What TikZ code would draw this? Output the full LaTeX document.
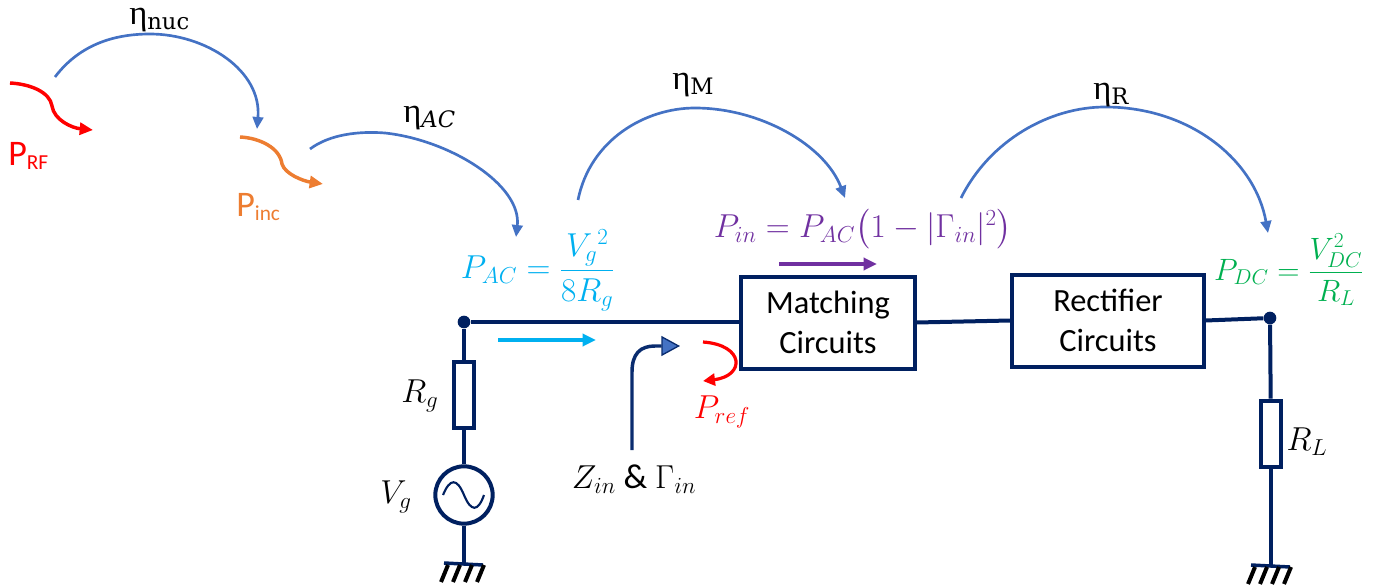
\documentclass[tikz,border=0pt]{standalone}
\usepackage{amsmath}
\usepackage{graphicx}
\usepackage{fontspec}
\setmainfont{Carlito}
\newfontfamily\etafont{Liberation Serif}
\newfontfamily\subfont{DejaVu Serif}
\usetikzlibrary{arrows.meta,calc}
\definecolor{navy}{HTML}{002060}
\definecolor{ablue}{HTML}{4472C4}
\definecolor{aorange}{HTML}{ED7D31}
\definecolor{acyan}{HTML}{00B0F0}
\definecolor{apurple}{HTML}{7030A0}
\definecolor{agreen}{HTML}{00B050}
\definecolor{ared}{HTML}{FF0000}
\newcommand{\etasym}[1]{{\etafont\fontsize{26}{30}\selectfont η}\raisebox{-3.5pt}{\subfont\fontsize{17}{20}\selectfont #1}}
\tikzset{
  wire/.style={draw=navy,line width=3pt},
  box/.style={draw=navy,line width=3pt,fill=white,align=center,inner sep=0pt,font=\fontsize{24.3}{30}\selectfont},
  res/.style={draw=navy,line width=3pt,fill=white,minimum width=15pt,minimum height=50pt,inner sep=0pt},
  dotnode/.style={circle,fill=navy,minimum size=9.5pt,inner sep=0pt},
  eff/.style={draw=ablue,line width=2pt,-{Triangle[length=9pt,width=8pt]}},
  flow/.style={line width=2.6pt,-{Triangle[length=9pt,width=9pt]}},
  lab/.style={inner sep=0pt,font=\fontsize{24}{28}\selectfont},
  form/.style={inner sep=0pt,font=\fontsize{24}{28}\selectfont},
  hatch/.style={draw=black,line width=3pt},
}
\newcommand{\groundat}[1]{%
  \draw[wire,line width=2.6pt] ($(#1)+(-20,-1)$) -- ($(#1)+(19,1)$);
  \foreach \d in {-16,-4,8,20}{\draw[hatch] ($(#1)+(\d,1)$) -- ($(#1)+(\d-7,18)$);}
}
\begin{document}
\begin{tikzpicture}[x=0.75pt,y=-0.75pt]
\useasboundingbox (0,0) rectangle (1385,588);
% free ends
\coordinate (a1s) at (55,77); \coordinate (a1e) at (257,129);
\coordinate (a2s) at (310,149); \coordinate (a2e) at (516,237);
\coordinate (a3s) at (578,200); \coordinate (a3e) at (845,198);
\coordinate (a4s) at (961,198); \coordinate (a4e) at (1268,233);
\coordinate (g1) at (464,564); \coordinate (g2) at (1271,566);
\coordinate (rfs) at (10,83); \coordinate (rfe) at (93,130);
\coordinate (incs) at (240,137); \coordinate (ince) at (323,184);
\coordinate (cs) at (498,340); \coordinate (ce) at (596,340);
\coordinate (ps) at (779,264); \coordinate (pe) at (877,264);
\coordinate (zs) at (632,450); \coordinate (ze) at (680,346);
\coordinate (rs) at (703,342); \coordinate (re) at (703,381);
% efficiency arcs
\draw[eff] (a1s) .. controls (80,44) and (115,34) .. (150,34) .. controls (205,34) and (262,70) .. (a1e);
\draw[eff] (a2s) .. controls (330,134) and (360,131) .. (385,133) .. controls (450,140) and (522,185) .. (a2e);
\draw[eff] (a3s) .. controls (590,140) and (645,108) .. (695,108) .. controls (760,108) and (825,145) .. (a3e);
\draw[eff] (a4s) .. controls (990,140) and (1050,107) .. (1105,107) .. controls (1190,107) and (1255,160) .. (a4e);
% power squiggles
\draw[ared,line width=2.6pt,-{Triangle[length=10pt,width=9pt]}] (rfs) .. controls (30,84) and (50,92) .. (52,106) .. controls (54,120) and (72,128) .. (rfe);
\draw[aorange,line width=2.6pt,-{Triangle[length=10pt,width=9pt]}] (incs) .. controls (260,138) and (280,148) .. (282,164) .. controls (285,174) and (303,181) .. (ince);
% circuit nodes
\node[dotnode] (d1) at (464,322) {};
\node[dotnode] (d2) at (1270,318) {};
\node[box,minimum width=130pt,minimum height=69pt] (mc) at (828,322.5) {Matching\\Circuits};
\node[box,minimum width=143.5pt,minimum height=69pt] (rc) at (1108,320.5) {Rectifier\\Circuits};
\node[res] (rg) at (464,395) {};
\node[res] (rl) at (1271,434) {};
\node[circle,draw=navy,line width=3pt,fill=white,minimum size=43pt,inner sep=0pt] (vs) at (464,495) {};
\draw[wire] (d1) -- (mc.west |- d1);
\draw[wire] (mc.east) -- (rc.west);
\draw[wire] (rc.east) -- (d2);
\draw[wire] (d1) -- (rg);
\draw[wire] (rg) -- (vs);
\draw[wire] (vs) -- (g1);
\draw[wire] (d2) -- (rl);
\draw[wire] (rl) -- (g2);
\draw[navy,line width=1.6pt] (443,495) .. controls (450,478) and (457,478) .. (464,495) .. controls (471,512) and (478,512) .. (484,495);
\groundat{g1}
\groundat{g2}
% flow arrows
\draw[flow,draw=acyan,-{Triangle[length=10pt,width=9pt,fill=acyan]}] (cs) -- (ce);
\draw[flow,draw=apurple,-{Triangle[length=10pt,width=9pt,fill=apurple]}] (ps) -- (pe);
\draw[draw=navy!85!ablue,line width=2.6pt,-{Triangle[length=14pt,width=15pt,fill=ablue,line width=1pt]}] (zs) -- (632,372) .. controls (632,354) and (640,346) .. (655,346) -- (ze);
\draw[ared,line width=2.4pt,-{Triangle[length=9pt,width=9pt]}] (rs) .. controls (745,345) and (745,376) .. (re);
% labels
\node[lab,text=ared,anchor=base west] (l1) at (8,166) {\fontsize{27}{30}\selectfont P\raisebox{-3pt}{\fontsize{16}{20}\selectfont RF}};
\node[lab,text=aorange,anchor=base west] (l2) at (236,216) {\fontsize{27}{30}\selectfont P\raisebox{-3pt}{\fontsize{16}{20}\selectfont inc}};
\node[lab,anchor=base west] (e1) at (129,25) {\etasym{nuc}};
\node[lab,anchor=base west] (e2) at (403,123) {\etasym{\textit{AC}}};
\node[lab,anchor=base west] (e3) at (672,90) {\etasym{M}};
\node[lab,anchor=base west] (e4) at (1093,100) {\etasym{R}};
\node[form,text=acyan] (f1) at (538,270) {$P_{AC}=\dfrac{V_g{}^2}{8R_g}$};
\node[form,text=apurple] (f2) at (863,229) {$P_{in}=P_{AC}\bigl(1-|\Gamma_{in}|^2\bigr)$};
\node[form,text=agreen] (f3) at (1289,270) {\scalebox{0.93}{$P_{DC}=\dfrac{V_{DC}^2}{R_L}$}};
\node[lab] (l3) at (420,396) {$R_g$};
\node[lab] (l4) at (396,497) {$V_g$};
\node[lab] (l5) at (1307,442) {$R_L$};
\node[lab,font=\fontsize{26}{30}\selectfont] (l6) at (634,479) {$Z_{in}$ \& $\Gamma_{in}$};
\node[lab,text=ared,font=\fontsize{26}{30}\selectfont] (l7) at (722,412) {$P_{ref}$};
\end{tikzpicture}
\end{document}
